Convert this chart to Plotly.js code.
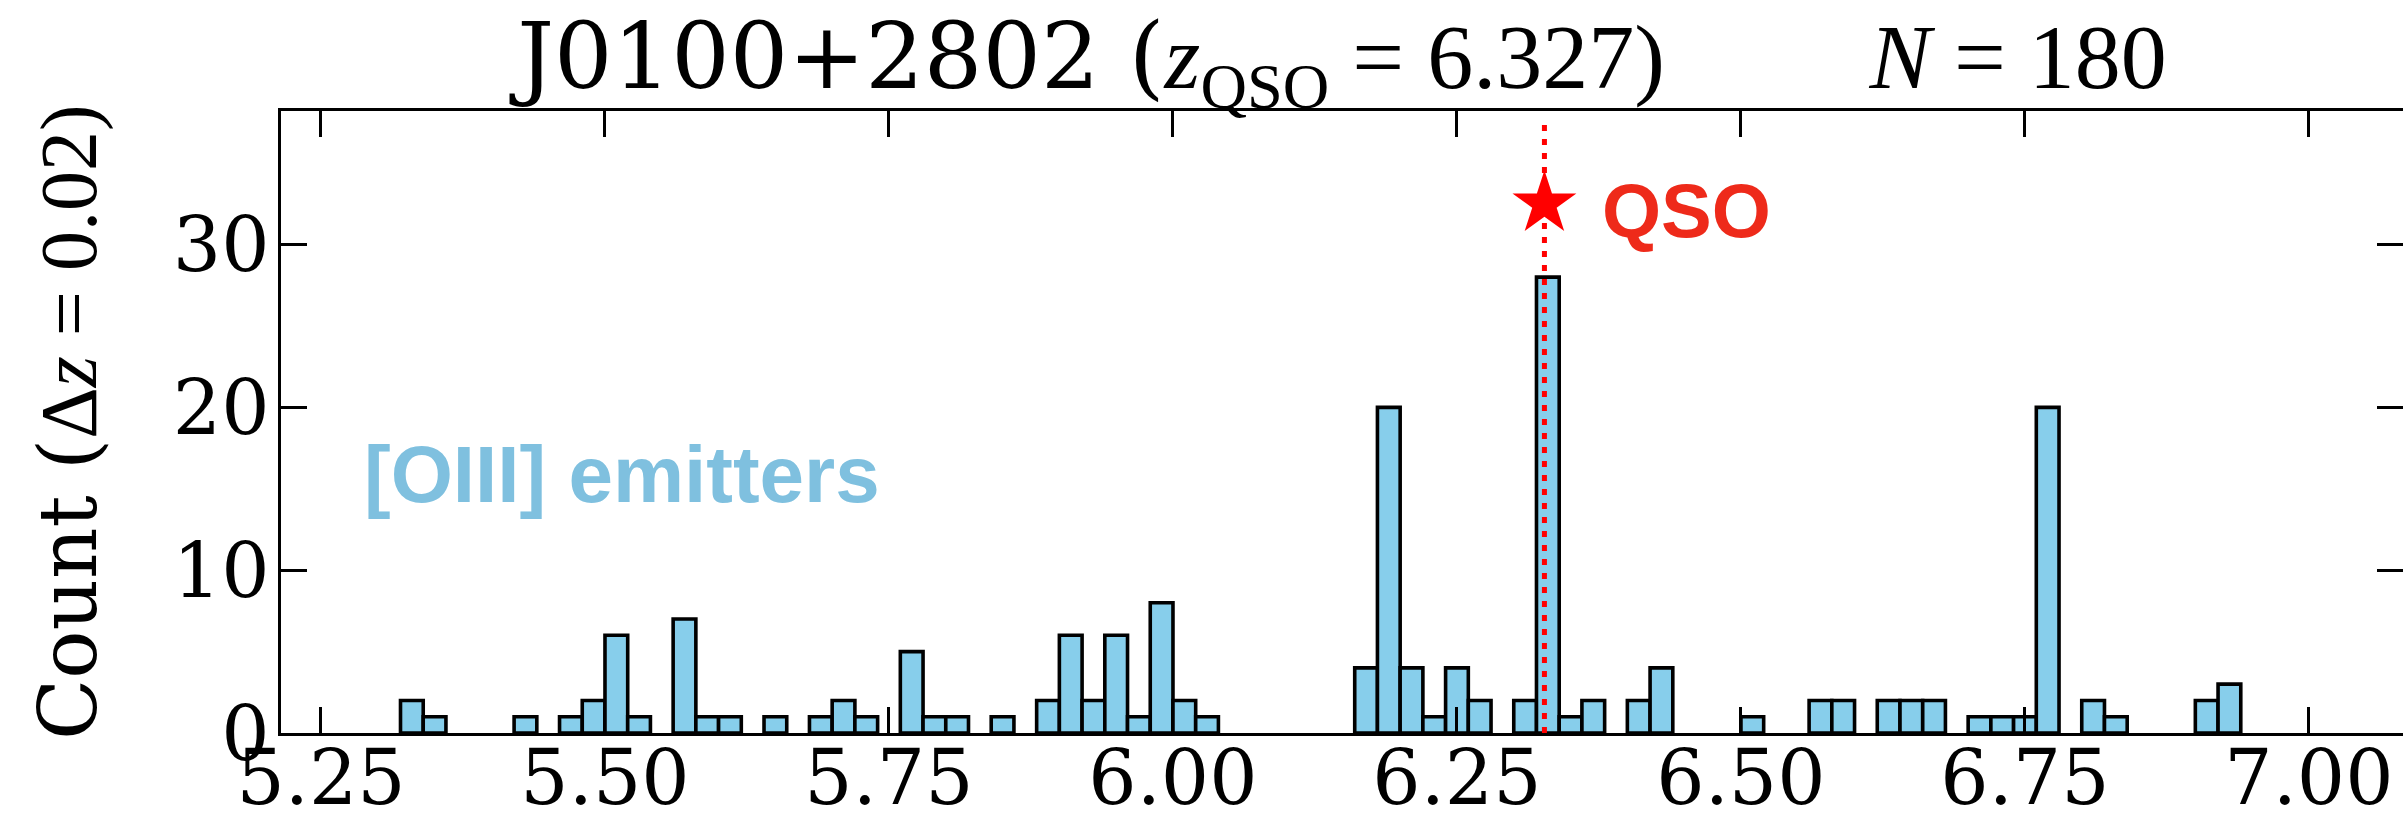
<!DOCTYPE html>
<html>
<head>
<meta charset="utf-8">
<script src="https://cdn.plot.ly/plotly-3.0.1.min.js"></script>
<style>
  html, body { margin: 0; padding: 0; background: #ffffff; overflow: hidden; }
  #chart { width: 2403px; height: 819px; }
</style>
</head>
<body>
<div id="chart"></div>
<script>
// ---- data ----
const binWidth = 0.02;
const binLeft = [5.32, 5.34, 5.42, 5.46, 5.48, 5.50, 5.52, 5.56, 5.58, 5.60,
                 5.64, 5.68, 5.70, 5.72, 5.76, 5.78, 5.80, 5.84, 5.88, 5.90,
                 5.92, 5.94, 5.96, 5.98, 6.00, 6.02, 6.16, 6.18, 6.20, 6.22,
                 6.24, 6.26, 6.30, 6.32, 6.34, 6.36, 6.40, 6.42, 6.50, 6.56,
                 6.58, 6.62, 6.64, 6.66, 6.70, 6.72, 6.74, 6.76, 6.80, 6.82,
                 6.90, 6.92];
const counts  = [2, 1, 1, 1, 2, 6, 1, 7, 1, 1,
                 1, 1, 2, 1, 5, 1, 1, 1, 2, 6,
                 2, 6, 1, 8, 2, 1, 4, 20, 4, 1,
                 4, 2, 2, 28, 1, 2, 2, 4, 1, 2,
                 2, 2, 2, 2, 1, 1, 1, 20, 2, 1,
                 2, 3];
const zQSO = 6.327;
const nTotal = 180;
const qsoStarY = 32.5;
const xTickVals = [5.25, 5.50, 5.75, 6.00, 6.25, 6.50, 6.75, 7.00];
const xTickText = ["5.25", "5.50", "5.75", "6.00", "6.25", "6.50", "6.75", "7.00"];
const yTickVals = [0, 10, 20, 30];
const xRange = [5.2148, 7.0828];
const yRange = [0, 38.2];

const serif = "DejaVu Serif";
const mathFont = "Liberation Serif";

const bars = {
  type: "bar",
  x: binLeft,
  y: counts,
  width: binWidth,
  offset: 0,
  marker: { color: "#87CEEB", line: { color: "#000000", width: 3.6 } },
  hoverinfo: "x+y",
  showlegend: false
};

const qsoLine = {
  type: "scatter",
  mode: "lines",
  x: [zQSO, zQSO],
  y: [yRange[0], yRange[1] - 0.6],
  line: { color: "#FF0000", width: 5, dash: "6px,8px" },
  showlegend: false,
  hoverinfo: "skip"
};

const qsoStar = {
  type: "scatter",
  mode: "markers",
  x: [zQSO],
  y: [qsoStarY],
  marker: { symbol: "star", size: 48, color: "#FF0000", line: { width: 0 } },
  showlegend: false,
  hoverinfo: "x"
};

const titleText =
  "J0100+2802 (<span style=\"font-family:'" + mathFont + "'\"><i>z</i><sub>QSO</sub> = " +
  zQSO.toFixed(3) + ")</span>&nbsp;&nbsp;&nbsp;&nbsp;&nbsp;&nbsp;&nbsp;" +
  "<span style=\"font-family:'" + mathFont + "'\"><i>N</i> = " + nTotal + "</span>";

const layout = {
  width: 2403,
  height: 819,
  margin: { l: 281, r: 0, t: 111, b: 86, autoexpand: false },
  paper_bgcolor: "#ffffff",
  plot_bgcolor: "#ffffff",
  bargap: 0,
  title: {
    text: titleText,
    font: { family: serif, size: 92, color: "#000000" },
    x: 0.5, xref: "paper", xanchor: "center",
    y: 1 - 56 / 819, yref: "container", yanchor: "middle"
  },
  xaxis: {
    range: xRange,
    tickmode: "array",
    tickvals: xTickVals,
    ticktext: xTickText,
    ticks: "inside",
    ticklen: 26,
    tickwidth: 3,
    tickcolor: "#000000",
    showline: true,
    linewidth: 3.3,
    linecolor: "#000000",
    mirror: "ticks",
    showgrid: false,
    zeroline: false,
    tickfont: { family: serif, size: 76, color: "#000000" },
    ticklabelstandoff: -24
  },
  yaxis: {
    range: yRange,
    tickmode: "array",
    tickvals: yTickVals,
    ticks: "inside",
    ticklen: 26,
    tickwidth: 3,
    tickcolor: "#000000",
    showline: true,
    linewidth: 3.3,
    linecolor: "#000000",
    mirror: "ticks",
    showgrid: false,
    zeroline: false,
    tickfont: { family: serif, size: 76, color: "#000000" },
    ticklabelstandoff: -7
  },
  annotations: [
    {
      text: "Count (<span style=\"font-family:'" + mathFont + "'\">Δ<i>z</i> = 0.02)</span>",
      xref: "paper", yref: "paper",
      x: -0.1004, y: 0.5,
      xanchor: "center", yanchor: "middle",
      textangle: -90,
      showarrow: false,
      font: { family: serif, size: 80, color: "#000000" }
    },
    {
      text: "QSO",
      xref: "x", yref: "y",
      x: 6.376, y: 32.1,
      xanchor: "left", yanchor: "middle",
      showarrow: false,
      font: { family: "Liberation Sans", size: 76, color: "#EE2A1A", weight: "bold" }
    },
    {
      text: "[OIII] emitters",
      xref: "x", yref: "y",
      x: 5.286, y: 15.85,
      xanchor: "left", yanchor: "middle",
      showarrow: false,
      font: { family: "Liberation Sans", size: 80, color: "#7FC0DF", weight: "bold" }
    }
  ]
};

Plotly.newPlot("chart", [bars, qsoLine, qsoStar], layout, { staticPlot: true, displayModeBar: false });
</script>
</body>
</html>
